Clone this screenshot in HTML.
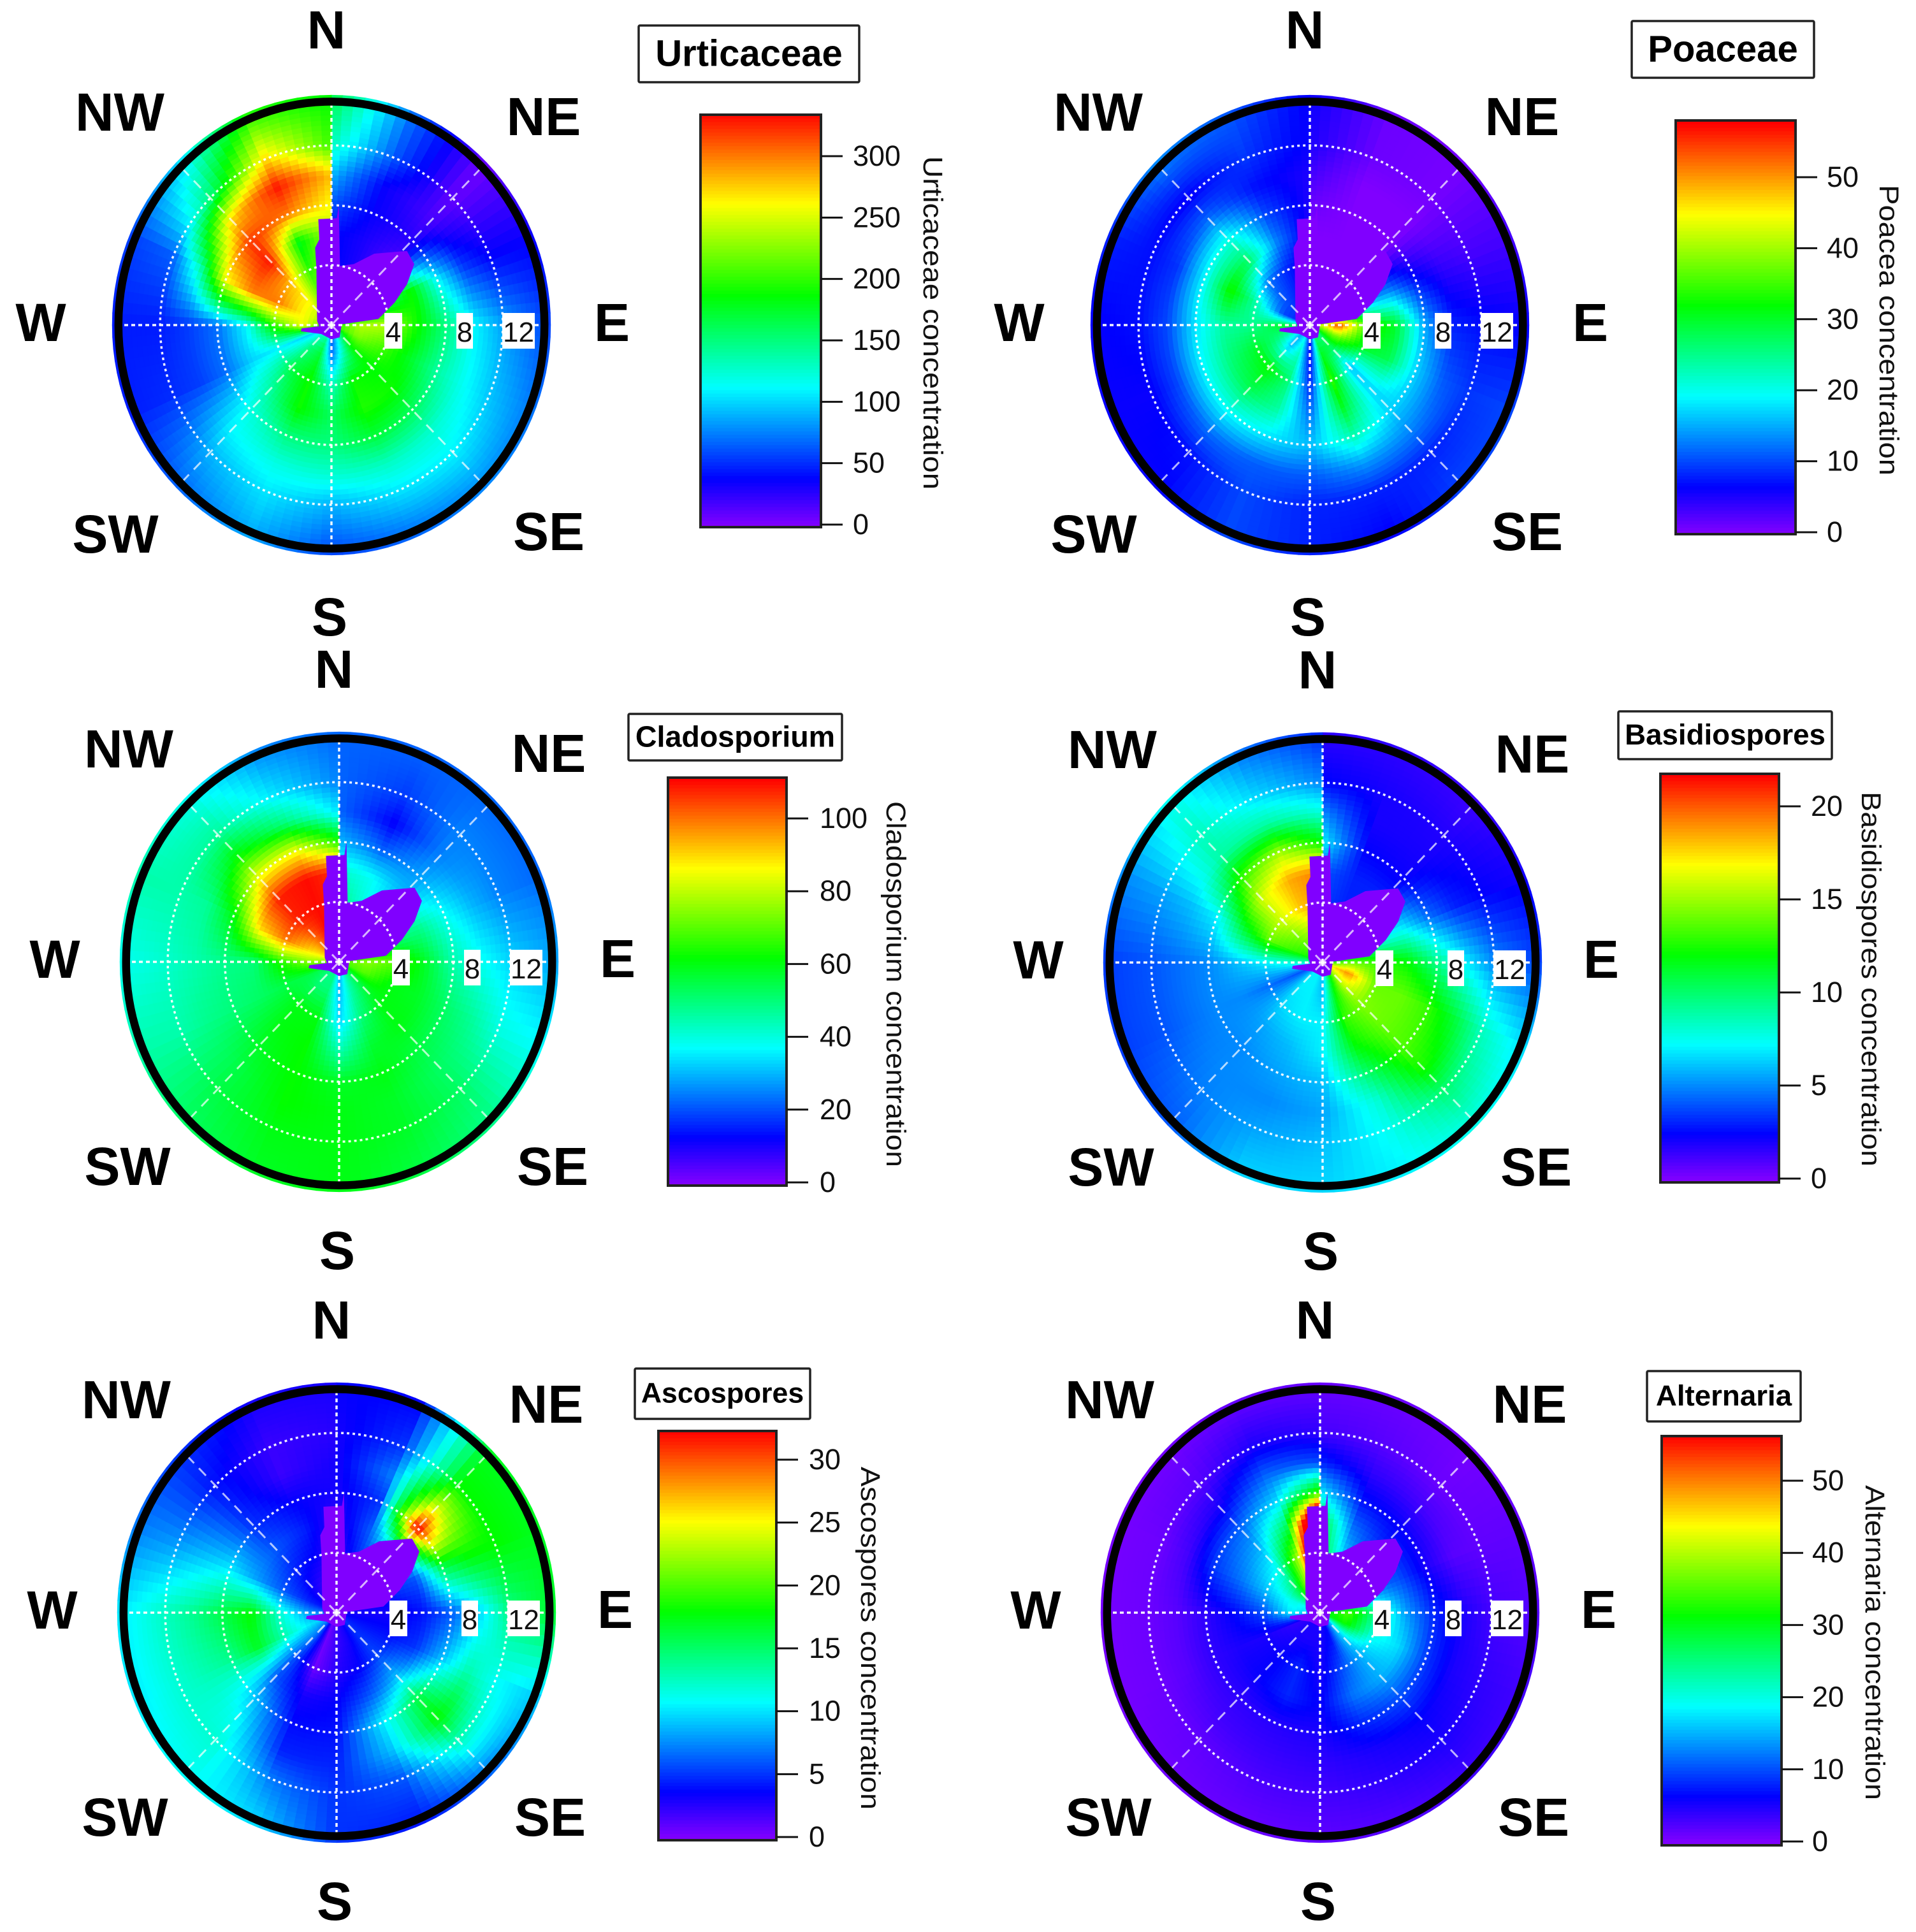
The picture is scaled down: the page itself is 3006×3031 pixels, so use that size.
<!DOCTYPE html>
<html lang="en">
<head>
<meta charset="utf-8">
<title>Pollen and spore concentration polar plots</title>
<style>
html,body{margin:0;padding:0;background:#fff;}
svg{display:block;font-family:"Liberation Sans",sans-serif;}
</style>
</head>
<body>
<svg id="figure" xmlns="http://www.w3.org/2000/svg" width="3006" height="3031" viewBox="0 0 3006 3031"></svg>
<script>
/* Shared axes */
const bearings = [0,22.5,45,67.5,90,112.5,135,157.5,180,202.5,225,247.5,270,292.5,315,337.5,360];
const speeds = [0.5,2,4,6,8,10,12,15.4];
const ringSpeeds = [4,8,12];
const ringLabels = ['4','8','12'];
const spokeBearings = [0,45,90,135,180,225,270,315];
const compassLabels = ['N','NE','E','SE','S','SW','W','NW'];

/* Low-speed no-data wedge: bearing (deg) and speed vertices */
const maskBearings = [285.2,344.5,347.5,351.5,352.6,3,3.7,8.6,21.1,32.2,46.9,54.9,62.8,71.3,82.9,85.7,145,180,230,259,264,264.5];
const maskSpeeds = [1.04,3.94,5.29,5.78,7.13,7.14,8.04,3.99,4.37,5.63,7.24,7.09,5.95,4.67,3.31,0.72,1,0.95,0.93,2.18,2.1,0.86];

/* Concentration grids: one row per bearing, one column per speed */
const urticaceaeValues = [
[40,40,40,40,60,90,130,170],
[30,30,30,30,35,35,60,70],
[10,10,10,15,25,15,8,5],
[100,120,150,190,110,55,37,35],
[200,240,240,190,150,110,85,55],
[200,225,205,175,140,115,95,70],
[150,190,185,190,160,125,110,75],
[100,130,190,195,170,130,105,65],
[60,70,130,160,150,125,90,55],
[130,170,190,190,150,120,105,85],
[120,150,165,140,120,110,90,65],
[100,100,110,100,70,55,50,45],
[200,260,200,110,70,55,45,45],
[230,260,300,300,260,130,65,55],
[230,260,280,330,320,270,150,95],
[200,220,200,180,300,330,270,190],
[200,220,220,240,260,280,205,185]];
const poaceaeValues = [
[0,0,0,0,1,3,5,6],
[0,0,0,0,0,0,1,1],
[0,0,0,0,0,0,0.5,0.5],
[10,14,14,13,7,4,3,3],
[40,55,35,30,15,8,7,6],
[35,38,30,28,17,11,9,10],
[25,28,16,17,17,13,8,10],
[25,30,34,30,23,14,8,6],
[6,6,8,12,16,11,8,8],
[18,22,26,24,18,11,10,10],
[14,16,32,28,20,12,7,6],
[20,24,30,26,19,10,6,6],
[28,30,25,24,18,10,7,6],
[8,10,23,33,19,9,7,8],
[8,10,12,27,21,12,6,14],
[6,8,8,13,10,7,9,11],
[4,4,4,5,5,5,6,6]];
const cladosporiumValues = [
[50,50,50,42,30,22,22,22],
[40,40,40,38,22,12,18,22],
[30,30,30,30,28,25,25,22],
[48,48,48,48,38,30,25,22],
[70,75,70,58,45,38,33,28],
[68,70,60,58,52,47,40,37],
[55,55,60,60,55,52,52,48],
[42,45,50,57,60,58,58,55],
[28,30,33,45,58,60,60,60],
[48,50,60,62,62,62,60,58],
[48,50,60,60,58,55,55,52],
[52,55,55,52,50,48,45,45],
[72,75,65,50,48,45,42,38],
[88,90,100,90,60,47,45,45],
[98,100,108,108,85,62,47,38],
[108,110,110,110,85,50,35,25],
[108,108,108,106,65,35,25,22]];
const basidiosporesValues = [
[4,4,3.5,4,7,5,2.5,1.5],
[3,3,3,3,2.4,2,2,1.5],
[3,3,3,3,2.2,2,1.8,1.2],
[7,7,7,7,4.5,3,2.4,2],
[13,14,13,12,9.5,7,5,3.5],
[17,19,14,14,13,11,8.5,6.5],
[15,16,14.5,14,13.5,12.5,10,7.5],
[10,12,13,12,10,8,7.5,7],
[6,6,7,7,6,5.5,6,6.5],
[7,7,7,6,5.5,5,5.5,6.5],
[7,7,6.5,5.5,5,5,4.8,4],
[4,4,4.5,5,5,4.5,4,3.5],
[8,8,7,6,5,4.5,4,3.5],
[12,13,14,11,7,6,5.5,5],
[13,14,16,16,13,9,8.5,7.5],
[14,15,18,18.5,15,9,6.5,4.5],
[18,18,19,19.5,12,8,5,3]];
const ascosporesValues = [
[1,1,1.5,2,3,3,3,3.5],
[3,3,5,6,5,7,5,3.5],
[4,4,6,14,33,24,18,17],
[4,4,5,6,16,18,18,17],
[3,3,3,4,6,9.5,14,17],
[4,4,4,5,9,13,11,9],
[5,5,5.5,9,16,18,13,6],
[3,3,3.5,6,10,9,6,4],
[2,2,2.5,3.5,4,4.5,5,5],
[0.5,0.5,0.5,3,3.8,4.5,7,10],
[6,7,6,6,9,11,12,11],
[9,10,13,17,14,13,12,10],
[7,8,12,18,16,14,12.5,10],
[4,4.5,6,8,10,9,8,7],
[3,3,4.5,6,5,4.5,4,5],
[2,2,3.5,4.5,3.5,2,2,3],
[1,1,2,2,3,3,2.5,3]];
const alternariaValues = [
[30,30,30,30,18,8,3,1],
[17,17,17,12,7,4,2,1],
[8,8,8,8,6,3,1,0.5],
[12,12,12,10,5,2,1.5,1.5],
[30,35,24,14,8,5,3,2],
[30,32,20,17,9,5,4,3],
[15,17,15,15,10,6,5,3],
[6,7,10,12,8,5,4,2],
[5,5,5,6,5,4,3,1.5],
[5,5,8,8,4.5,3.5,2.5,1],
[5,5,6,6,4,3,1.5,0.8],
[4,4,5,5,4,2,1,0.5],
[16,18,10,6.5,4,2,1,0.5],
[18,20,16,12,9,3,1,0.5],
[26,28,20,15,11,5,2,0.5],
[38,40,40,28,17,11,5,1],
[60,70,80,85,35,10,4,1]];

/* Colour-bar tick values */
const urticaceaeTicks = [0,50,100,150,200,250,300];
const poaceaeTicks = [0,10,20,30,40,50];
const cladosporiumTicks = [0,20,40,60,80,100];
const basidiosporesTicks = [0,5,10,15,20];
const ascosporesTicks = [0,5,10,15,20,25,30];
const alternariaTicks = [0,10,20,30,40,50];

/* Compass label layout per row */
const labelOffsetsTop = {N:[-8,-464],NE:[333,-328],E:[440,-5],SE:[341,323],S:[-3,457],SW:[-339,327],W:[-456,-5],NW:[-332,-335]};
const labelOffsetsLower = {N:[-8,-460],NE:[329,-328],E:[437,-6],SE:[335,320],S:[-3,452],SW:[-332,320],W:[-446,-5],NW:[-330,-335]};

const panels = [
 {key:'urticaceae',title:'Urticaceae',axis:'Urticaceae concentration',values:urticaceaeValues,ticks:urticaceaeTicks,max:336,cx:520,cy:510,labels:labelOffsetsTop,
  box:[1002,40,346,89],titleSize:58,bar:[1099,180,189,647],zeroY:823,topTick:245,labelX:1338,axisX:1464,axisY:[245,768]},
 {key:'poaceae',title:'Poaceae',axis:'Poacea concentration',values:poaceaeValues,ticks:poaceaeTicks,max:57.6,cx:2055,cy:510,labels:labelOffsetsTop,
  box:[2560,33,286,89],titleSize:58,bar:[2629,189,188,649],zeroY:835,topTick:278,labelX:2866,axisX:2964,axisY:[290,746]},
 {key:'cladosporium',title:'Cladosporium',axis:'Cladosporium concentration',values:cladosporiumValues,ticks:cladosporiumTicks,max:111,cx:532,cy:1509,labels:labelOffsetsLower,
  box:[986,1120,335,73],titleSize:46.6,bar:[1048,1220,186,640],zeroY:1855,topTick:1284,labelX:1286,axisX:1406,axisY:[1257,1831]},
 {key:'basidiospores',title:'Basidiospores',axis:'Basidiospores concentration',values:basidiosporesValues,ticks:basidiosporesTicks,max:21.7,cx:2075,cy:1510,labels:labelOffsetsLower,
  box:[2539,1116,335,75],titleSize:45.7,bar:[2605,1214,186,641],zeroY:1849,topTick:1265,labelX:2841,axisX:2936,axisY:[1242,1830]},
 {key:'ascospores',title:'Ascospores',axis:'Ascospores concentration',values:ascosporesValues,ticks:ascosporesTicks,max:32.3,cx:528,cy:2530,labels:labelOffsetsLower,
  box:[996,2147,275,79],titleSize:44.6,bar:[1033,2245,185,642],zeroY:2882,topTick:2290,labelX:1269,axisX:1366,axisY:[2301,2839]},
 {key:'alternaria',title:'Alternaria',axis:'Alternaria concentration',values:alternariaValues,ticks:alternariaTicks,max:56.3,cx:2071,cy:2530,labels:labelOffsetsLower,
  box:[2584,2151,241,79],titleSize:45.7,bar:[2607,2253,188,642],zeroY:2889,topTick:2323,labelX:2843,axisX:2942,axisY:[2330,2824]}
];

const SVGNS = 'http://www.w3.org/2000/svg';
const PX_PER_SPEED_X = 22.4;
const PX_PER_SPEED_Y = 23.5;
const OUTER_SPEED = 15.35;
const RING_SPEED = 14.92;
const figure = document.getElementById('figure');

function make(parent, tag, attrs, text) {
  const el = document.createElementNS(SVGNS, tag);
  for (const k in attrs) el.setAttribute(k, attrs[k]);
  if (text !== undefined) el.textContent = text;
  parent.appendChild(el);
  return el;
}
/* Axis functions */
function polarX(panel, bearing, speed) { return panel.cx + speed * PX_PER_SPEED_X * Math.sin(bearing * Math.PI / 180); }
function polarY(panel, bearing, speed) { return panel.cy - speed * PX_PER_SPEED_Y * Math.cos(bearing * Math.PI / 180); }
function rainbow(value, max) {
  const t = Math.max(0, Math.min(1, value / max));
  const h = 270 * (1 - t) / 60;
  const x = 1 - Math.abs(h % 2 - 1);
  const tbl = [[1,x,0],[x,1,0],[0,1,x],[0,x,1],[x,0,1]];
  const c = tbl[Math.min(4, Math.floor(h))];
  return 'rgb(' + c.map(v => Math.round(v * 255)).join(',') + ')';
}
function bracket(axis, v) {
  let i = 0;
  while (i < axis.length - 2 && v > axis[i + 1]) i++;
  const f = Math.max(0, Math.min(1, (v - axis[i]) / (axis[i + 1] - axis[i])));
  return [i, f];
}
function sample(grid, bearing, speed) {
  const [a, fa] = bracket(bearings, bearing);
  const [s, fs] = bracket(speeds, speed);
  const v0 = grid[a][s] * (1 - fs) + grid[a][s + 1] * fs;
  const v1 = grid[a + 1][s] * (1 - fs) + grid[a + 1][s + 1] * fs;
  return v0 * (1 - fa) + v1 * fa;
}

function drawHeat(panel, g) {
  const dA = 3, dS = OUTER_SPEED / 46;
  for (let b = 0; b < 360; b += dA) {
    for (let i = 0; i < 46; i++) {
      const s0 = i * dS, s1 = (i + 1) * dS;
      const v = sample(panel.values, b + dA / 2, (s0 + s1) / 2);
      const col = rainbow(v, panel.max);
      const d = 'M' + polarX(panel, b, s0).toFixed(1) + ' ' + polarY(panel, b, s0).toFixed(1) +
        'L' + polarX(panel, b, s1).toFixed(1) + ' ' + polarY(panel, b, s1).toFixed(1) +
        'L' + polarX(panel, b + dA, s1).toFixed(1) + ' ' + polarY(panel, b + dA, s1).toFixed(1) +
        'L' + polarX(panel, b + dA, s0).toFixed(1) + ' ' + polarY(panel, b + dA, s0).toFixed(1) + 'Z';
      const cell = make(g, 'path', {d: d, fill: col, stroke: col, 'stroke-width': 0.8});
      
      
    }
  }
}

function drawPanel(panel) {
  const g = make(figure, 'g', {});
  
  

  const heat = make(g, 'g', {});
  
  
  drawHeat(panel, heat);

  const maskD = maskBearings.map((b, i) =>
    (i ? 'L' : 'M') + polarX(panel, b, maskSpeeds[i]).toFixed(1) + ' ' + polarY(panel, b, maskSpeeds[i]).toFixed(1)).join('') + 'Z';
  const mask = make(g, 'path', {d: maskD, fill: '#8000ff'});
  
  

  ringSpeeds.forEach(s => {
    const ring = make(g, 'ellipse', {cx: panel.cx, cy: panel.cy, rx: s * PX_PER_SPEED_X, ry: s * PX_PER_SPEED_Y, fill: 'none', stroke: '#fff', 'stroke-width': 3.5, 'stroke-dasharray': '4 5', opacity: 0.92});
    
    
  });
  spokeBearings.forEach(b => {
    const diagonal = b % 90 !== 0;
    const spoke = make(g, 'line', {x1: panel.cx, y1: panel.cy, x2: polarX(panel, b, RING_SPEED), y2: polarY(panel, b, RING_SPEED),
      stroke: '#fff', 'stroke-width': diagonal ? 3 : 3.5, 'stroke-dasharray': diagonal ? '16 11' : '6 5', opacity: diagonal ? 0.7 : 0.95});
    
    
  });

  const ringOutline = make(g, 'ellipse', {cx: panel.cx, cy: panel.cy, rx: RING_SPEED * PX_PER_SPEED_X, ry: RING_SPEED * PX_PER_SPEED_Y, fill: 'none', stroke: '#000', 'stroke-width': 12.5});
  
  

  const labelBoxOffset = [[83,28],[196,26],[268,51]];
  ringLabels.forEach((t, i) => {
    const o = labelBoxOffset[i];
    const box = make(g, 'rect', {x: panel.cx + o[0], y: panel.cy - 19, width: o[1], height: 56, fill: '#fff'});
    
    
    const label = make(g, 'text', {x: panel.cx + o[0] + o[1] / 2, y: panel.cy + 26, 'font-size': 44, 'text-anchor': 'middle', fill: '#111'}, t);
    
    
  });

  compassLabels.forEach(c => {
    const off = panel.labels[c];
    const label = make(g, 'text', {x: panel.cx + off[0], y: panel.cy + off[1] + 30, 'font-size': 84, 'font-weight': 'bold', 'text-anchor': 'middle', fill: '#000'}, c);
    
    
  });

  /* Title box */
  const [bx, by, bw, bh] = panel.box;
  const titleBox = make(g, 'rect', {x: bx, y: by, width: bw, height: bh, rx: 2, fill: '#fff', stroke: '#222', 'stroke-width': 3.5});
  
  
  const title = make(g, 'text', {x: bx + bw / 2, y: by + bh / 2 + panel.titleSize * 0.36 - 2, 'font-size': panel.titleSize, 'font-weight': 'bold', 'text-anchor': 'middle', fill: '#000'}, panel.title);
  
  

  /* Colour bar */
  const [cx, cy, cw, ch] = panel.bar;
  const bottom = cy + ch;
  const tickTop = panel.ticks[panel.ticks.length - 1];
  const pxPerUnit = (panel.zeroY - panel.topTick) / tickTop;
  const yScale = v => panel.zeroY - v * pxPerUnit;
  const legend = make(g, 'g', {});
  
  
  const steps = 120;
  for (let i = 0; i < steps; i++) {
    const y = bottom - (i + 1) * ch / steps;
    const v = (panel.zeroY - (y + ch / steps / 2)) / pxPerUnit;
    const swatch = make(legend, 'rect', {x: cx, y: y.toFixed(2), width: cw, height: (ch / steps + 0.8).toFixed(2), fill: rainbow(v, panel.max)});
    
    
  }
  const frame = make(legend, 'rect', {x: cx, y: cy, width: cw, height: ch, fill: 'none', stroke: '#222', 'stroke-width': 4});
  
  
  panel.ticks.forEach(v => {
    const y = yScale(v);
    const tick = make(legend, 'line', {x1: cx + cw, x2: cx + cw + 34, y1: y, y2: y, stroke: '#111', 'stroke-width': 3});
    
    
    const label = make(legend, 'text', {x: panel.labelX, y: y + 15, 'font-size': 45, fill: '#111'}, String(v));
    
    
  });
  const midY = (panel.axisY[0] + panel.axisY[1]) / 2;
  const axisTitle = make(legend, 'text', {x: 0, y: 0, transform: 'translate(' + (panel.axisX - 15) + ' ' + midY + ') rotate(90)',
    'font-size': 43, 'text-anchor': 'middle', fill: '#111', textLength: panel.axisY[1] - panel.axisY[0], lengthAdjust: 'spacingAndGlyphs'}, panel.axis);
  
  
}

panels.forEach(drawPanel);
</script>
</body>
</html>
